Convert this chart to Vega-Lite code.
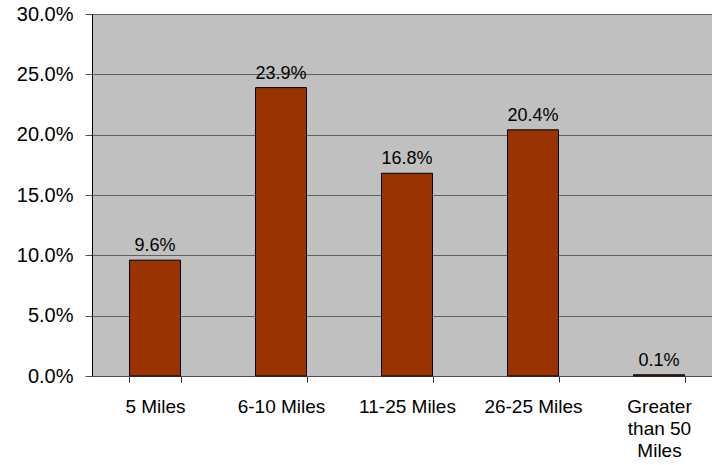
{
  "$schema": "https://vega.github.io/schema/vega-lite/v6.json",
  "width": 620,
  "height": 362,
  "autosize": "none",
  "padding": {"left": 92, "top": 14, "right": 0, "bottom": 89},
  "background": "white",
  "config": {
    "view": {"fill": "#C0C0C0", "stroke": null},
    "font": "Liberation Sans"
  },
  "data": {
    "values": [
      {"category": "5 Miles", "value": 0.096},
      {"category": "6-10 Miles", "value": 0.239},
      {"category": "11-25 Miles", "value": 0.168},
      {"category": "26-25 Miles", "value": 0.204},
      {"category": "Greater than 50 Miles", "value": 0.001}
    ]
  },
  "encoding": {
    "x": {
      "field": "category",
      "type": "nominal",
      "sort": null,
      "scale": {"paddingInner": 0.595, "paddingOuter": 0.2975, "range": [0, 630]},
      "axis": {
        "title": null,
        "labelAngle": 0,
        "labelFontSize": 19,
        "labelColor": "black",
        "labelPadding": 15,
        "labelLineHeight": 22,
        "labelBaseline": "top",
        "tickBand": "extent",
        "tickSize": 6,
        "tickColor": "#303030",
        "domainColor": "#505050",
        "labelExpr": "datum.label == 'Greater than 50 Miles' ? ['Greater', 'than 50', 'Miles'] : datum.label"
      }
    },
    "y": {
      "field": "value",
      "type": "quantitative",
      "scale": {"domain": [0, 0.3]},
      "axis": {
        "title": null,
        "format": ".1%",
        "values": [0, 0.05, 0.1, 0.15, 0.2, 0.25, 0.3],
        "labelFontSize": 20,
        "labelColor": "black",
        "labelPadding": 12,
        "tickSize": 7,
        "tickColor": "#505050",
        "domainColor": "black",
        "gridColor": "#606060",
        "gridOpacity": 1,
        "gridWidth": 1
      }
    }
  },
  "layer": [
    {
      "mark": {"type": "bar", "fill": "#993300", "stroke": "black", "strokeWidth": 1}
    },
    {
      "mark": {"type": "text", "baseline": "alphabetic", "dy": -9, "fontSize": 18, "color": "black"},
      "encoding": {
        "text": {"field": "value", "type": "quantitative", "format": ".1%"}
      }
    }
  ]
}
